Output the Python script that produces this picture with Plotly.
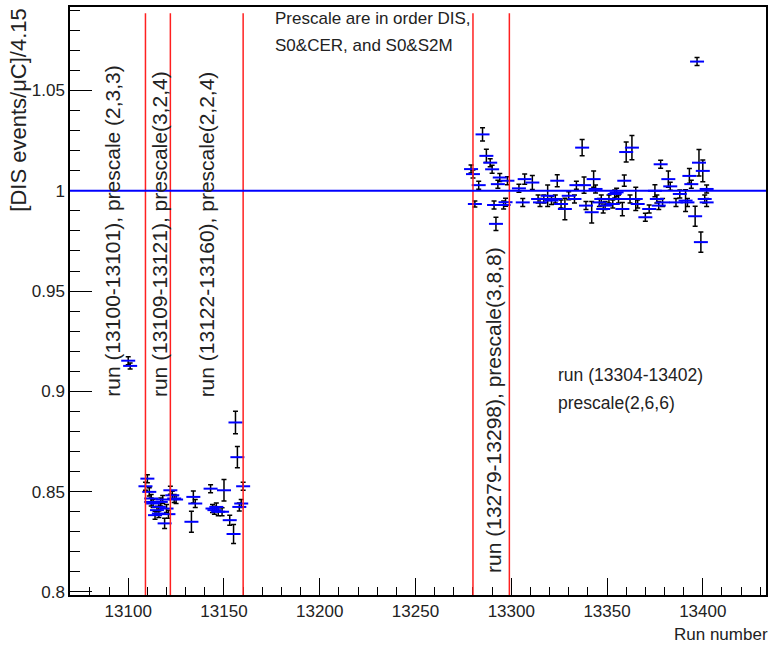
import plotly.graph_objects as go

# ---------------- data ----------------
runs = [
    13100, 13101,
    13109, 13110, 13111, 13112, 13112, 13113, 13114, 13115, 13116, 13116, 13117, 13118, 13119, 13120, 13121,
    13122, 13123, 13124, 13125, 13133, 13134, 13135, 13143, 13144, 13145, 13146, 13147, 13149, 13150,
    13153, 13155, 13156, 13157, 13158, 13159, 13160,
    13279, 13280, 13281, 13283, 13285, 13287, 13289, 13290, 13291, 13292, 13293, 13294, 13296, 13297, 13298,
    13304, 13306, 13307, 13311, 13314, 13315, 13317, 13319, 13321, 13323, 13324, 13326, 13328, 13330,
    13333, 13334, 13337, 13338, 13339, 13342, 13343, 13344, 13346, 13347, 13348, 13349, 13351, 13353,
    13354, 13355, 13356, 13358, 13359, 13360, 13362, 13363, 13365, 13366, 13370, 13372, 13375, 13376,
    13377, 13378, 13379, 13382, 13383, 13386, 13388, 13391, 13392, 13393, 13394, 13396, 13397, 13398,
    13399, 13400, 13401, 13402, 13402,
]
ratio = [
    0.9153, 0.9127,
    0.8527, 0.8565, 0.8499, 0.8449, 0.8466, 0.8441, 0.8383, 0.8408, 0.8391, 0.8424, 0.8449, 0.8461, 0.8342, 0.8416, 0.8388,
    0.8507, 0.8482, 0.8466, 0.8461, 0.8350, 0.8474, 0.8441, 0.8515, 0.8416, 0.8408, 0.8424, 0.8400, 0.8400, 0.8507,
    0.8358, 0.8289, 0.8845, 0.8672, 0.8424, 0.8441, 0.8527,
    1.0108, 1.0083, 0.9934, 1.0028, 1.0281, 1.0174, 1.0140, 1.0107, 0.9929, 0.9835, 1.0033, 1.0066, 0.9929, 0.9943, 1.0050,
    1.0012, 0.9942, 1.0058, 1.0041, 0.9959, 0.9942, 0.9959, 0.9975, 0.9951, 0.9959, 1.0050, 0.9934, 0.9909, 0.9975,
    0.9959, 1.0028, 1.0215, 1.0028, 0.9926, 0.9893, 1.0058, 1.0009, 0.9942, 0.9959, 0.9909, 0.9926, 0.9959, 0.9934,
    0.9984, 0.9992, 0.9959, 0.9909, 1.0050, 1.0193, 0.9959, 1.0215, 0.9959, 0.9934, 0.9868, 0.9909, 1.0000, 0.9959,
    0.9926, 1.0132, 0.9942, 1.0058, 1.0022, 0.9942, 0.9984, 0.9951, 0.9942, 1.0074, 1.0033, 0.9873, 1.0644, 1.0140,
    0.9744, 1.0099, 0.9959, 1.0009, 0.9942,
]
err = [
    0.0020, 0.0015,
    0.0020, 0.0020, 0.0020, 0.0020, 0.0020, 0.0020, 0.0020, 0.0020, 0.0020, 0.0020, 0.0020, 0.0020, 0.0025, 0.0020, 0.0020,
    0.0020, 0.0020, 0.0020, 0.0020, 0.0052, 0.0030, 0.0020, 0.0020, 0.0020, 0.0020, 0.0020, 0.0020, 0.0020, 0.0054,
    0.0025, 0.0047, 0.0056, 0.0053, 0.0020, 0.0020, 0.0020,
    0.0020, 0.0020, 0.0015, 0.0020, 0.0033, 0.0033, 0.0020, 0.0020, 0.0020, 0.0033, 0.0020, 0.0020, 0.0020, 0.0020, 0.0020,
    0.0020, 0.0020, 0.0025, 0.0035, 0.0020, 0.0020, 0.0020, 0.0054, 0.0020, 0.0020, 0.0030, 0.0020, 0.0054, 0.0020,
    0.0020, 0.0020, 0.0041, 0.0041, 0.0020, 0.0054, 0.0041, 0.0020, 0.0020, 0.0020, 0.0020, 0.0020, 0.0020, 0.0020,
    0.0020, 0.0020, 0.0020, 0.0033, 0.0028, 0.0050, 0.0020, 0.0060, 0.0058, 0.0020, 0.0020, 0.0020, 0.0030, 0.0020,
    0.0020, 0.0020, 0.0020, 0.0041, 0.0020, 0.0020, 0.0020, 0.0054, 0.0020, 0.0037, 0.0020, 0.0050, 0.0020, 0.0066,
    0.0050, 0.0054, 0.0020, 0.0020, 0.0020,
]

red_line_runs = [13109, 13122, 13160, 13280, 13299]
reference_level = 1.0

x_tickvals = [13100, 13150, 13200, 13250, 13300, 13350, 13400]
y_tickvals = [0.8, 0.85, 0.9, 0.95, 1.0, 1.05]
y_ticktext = ["0.8", "0.85", "0.9", "0.95", "1", "1.05"]

group_labels = [
    "run (13100-13101), prescale (2,3,3)",
    "run (13109-13121), prescale(3,2,4)",
    "run (13122-13160), prescale(2,2,4)",
    "run (13279-13298), prescale(3,8,8)",
]
note_lines = ["Prescale are in order DIS,", "S0&CER, and S0&S2M"]
last_group_lines = ["run (13304-13402)", "prescale(2,6,6)"]

# ---------------- figure ----------------
FONT = "Liberation Sans, Arial, Helvetica, sans-serif"
XR = [13069.6, 13433.0]
YR = [0.7985, 1.0916]

fig = go.Figure()

fig.add_trace(go.Scatter(
    x=runs, y=ratio, mode="markers",
    marker=dict(symbol="line-ew", size=10, color="blue", line=dict(color="blue", width=2)),
    error_y=dict(type="data", array=err, visible=True, color="black", thickness=1.5, width=2.5),
    showlegend=False, hoverinfo="x+y",
))

shapes = []
for r in red_line_runs:
    shapes.append(dict(type="line", xref="x", yref="y", x0=r, x1=r, y0=YR[0], y1=1.0885,
                       line=dict(color="#ff2020", width=1.5), layer="above"))
shapes.append(dict(type="line", xref="paper", yref="y", x0=0, x1=1,
                   y0=reference_level, y1=reference_level,
                   line=dict(color="#0000ff", width=2), layer="above"))

annotations = []
vert_pos = [(13091.4, 0.8962), (13116.1, 0.8962), (13140.8, 0.8962), (13291.0, 0.8085)]
for txt, (xx, yy) in zip(group_labels, vert_pos):
    annotations.append(dict(x=xx, y=yy, xref="x", yref="y", text=txt, showarrow=False,
                            textangle=-90, xanchor="center", yanchor="bottom",
                            font=dict(family=FONT, size=21, color="#222")))
for txt, yy in zip(note_lines, [1.0858, 1.0726]):
    annotations.append(dict(x=13175.4, y=yy, xref="x", yref="y", text=txt, showarrow=False,
                            xanchor="left", yanchor="middle",
                            font=dict(family=FONT, size=17, color="#222")))
for txt, yy in zip(last_group_lines, [0.9084, 0.8944]):
    annotations.append(dict(x=13323.1, y=yy, xref="x", yref="y", text=txt, showarrow=False,
                            xanchor="left", yanchor="middle",
                            font=dict(family=FONT, size=17.5, color="#222")))
# axis titles
annotations.append(dict(x=-0.0745, y=1.0, xref="paper", yref="paper", text="[DIS events/μC]/4.15",
                        showarrow=False, textangle=-90, xanchor="center", yanchor="top",
                        font=dict(family=FONT, size=22, color="#222")))
annotations.append(dict(x=1.006, y=-0.068, xref="paper", yref="paper", text="Run number",
                        showarrow=False, xanchor="right", yanchor="middle",
                        font=dict(family=FONT, size=17, color="#222")))

fig.update_layout(
    width=773, height=648,
    margin=dict(l=70, r=5, t=7, b=53),
    paper_bgcolor="white", plot_bgcolor="white",
    shapes=shapes, annotations=annotations,
    font=dict(family=FONT, size=17, color="#222"),
)
fig.update_xaxes(
    range=XR, showgrid=False, zeroline=False,
    showline=True, linecolor="black", linewidth=1.5, mirror=True,
    ticks="inside", ticklen=17, tickwidth=1, tickcolor="black",
    tickvals=x_tickvals, tickformat="d",
    tickfont=dict(family=FONT, size=17, color="#222"),
    minor=dict(dtick=10, tick0=13100, ticks="inside", ticklen=8, tickcolor="black", tickwidth=1),
)
fig.update_yaxes(
    range=YR, showgrid=False, zeroline=False,
    showline=True, linecolor="black", linewidth=1.5, mirror=True,
    ticks="inside", ticklen=22, tickwidth=1, tickcolor="black",
    tickvals=y_tickvals, ticktext=y_ticktext,
    tickfont=dict(family=FONT, size=17, color="#222"),
    minor=dict(dtick=0.01, tick0=0.8, ticks="inside", ticklen=10, tickcolor="black", tickwidth=1),
)

# remove the browser's default 8px body margin so the figure sits at the page origin
fig.write_html("out.html", config={"displayModeBar": False},
               post_script="document.body.style.margin='0px';")
